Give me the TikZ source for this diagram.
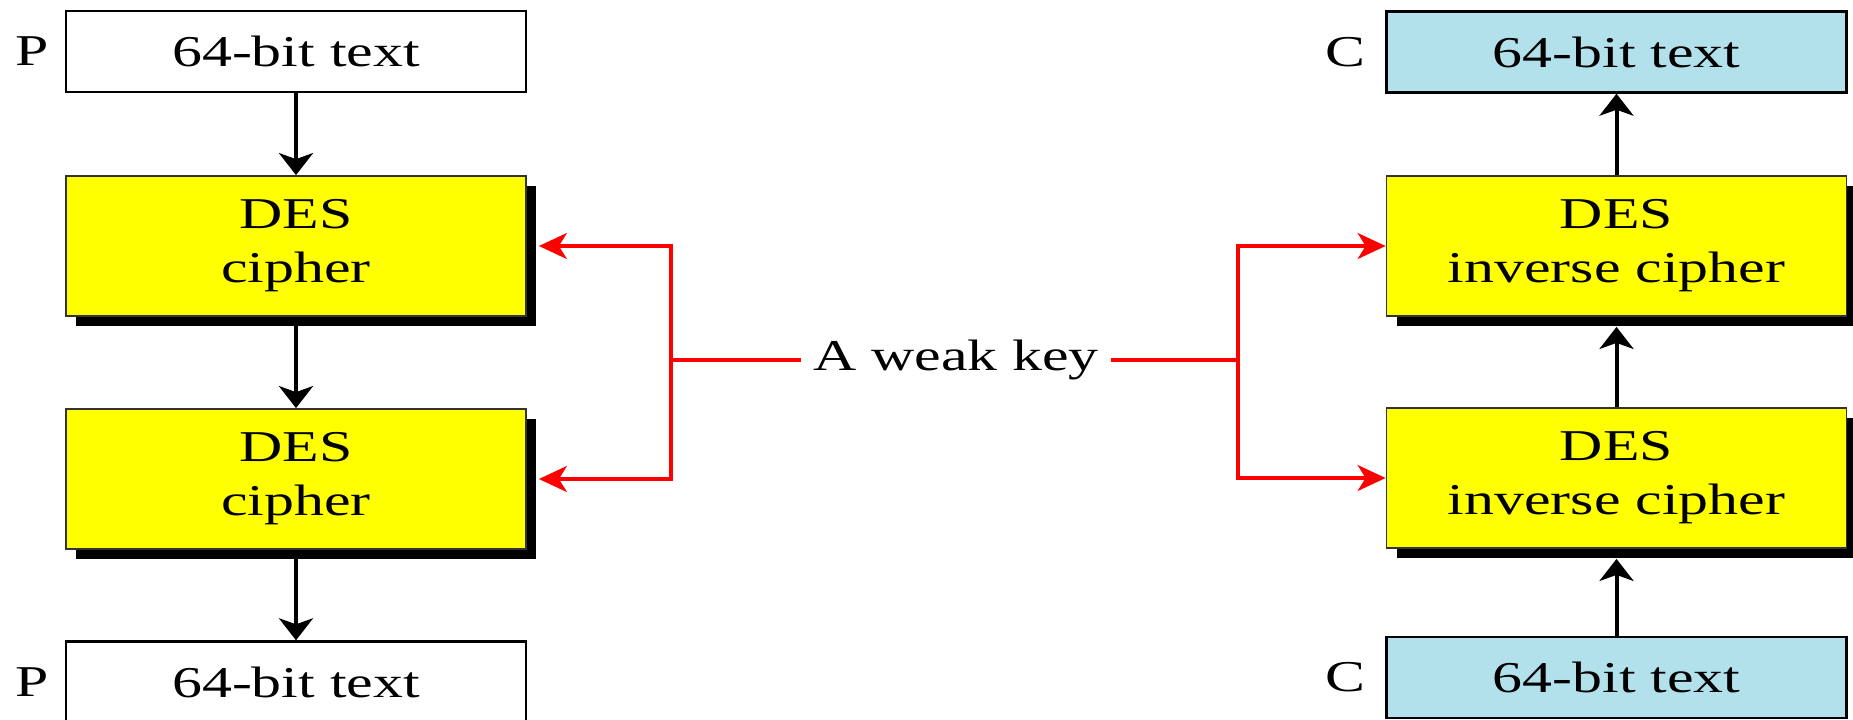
\documentclass[tikz,border=0pt]{standalone}
\usepackage{fontspec}
\setmainfont{Liberation Serif}[FakeStretch=1.36]
\usetikzlibrary{arrows.meta,shadows}
\definecolor{boxblue}{HTML}{B2E1EC}
\definecolor{desyellow}{RGB}{255,255,0}
\begin{document}
\begin{tikzpicture}[x=0.5pt,y=-0.5pt,
  every node/.style={font=\fontsize{22pt}{27pt}\selectfont},
  txtbox/.style={draw=black,line width=1.2pt,minimum width=230pt,minimum height=40.5pt,inner sep=0pt},
  whitebox/.style={txtbox,fill=white},
  bluebox/.style={txtbox,fill=boxblue},
  desbox/.style={draw=black!80,line width=0.9pt,fill=desyellow,minimum width=230pt,minimum height=70pt,inner sep=0pt,align=center,
    drop shadow={shadow xshift=5pt,shadow yshift=-5pt,fill=black,opacity=1}},
  lbl/.style={inner sep=0pt,anchor=east},
  flow/.style={-{Stealth[length=11pt,width=17pt,inset=3pt]},line width=2pt,black},
  keyarr/.style={-{Stealth[length=14pt,width=13pt,inset=4pt]},line width=1.6pt,red},
  keyline/.style={line width=1.6pt,red}]
\useasboundingbox (0,0) rectangle (1853,719);
% left column
\node[whitebox] (PT) at (296,51.5) {64-bit text};
\node[desbox] (D1) at (296,246) {DES\\cipher};
\node[desbox] (D2) at (296,479) {DES\\cipher};
\node[whitebox] (PB) at (296,682) {64-bit text};
\node[lbl] (PTl) at ([xshift=-8pt]PT.west) {P};
\node[lbl] (PBl) at ([xshift=-8pt]PB.west) {P};
% right column
\node[bluebox] (CT) at (1616.5,52) {64-bit text};
\node[desbox] (I1) at (1616.5,246) {DES\\inverse cipher};
\node[desbox] (I2) at (1616.5,478) {DES\\inverse cipher};
\node[bluebox] (CB) at (1616.5,677.5) {64-bit text};
\node[lbl] (CTl) at ([xshift=-10pt]CT.west) {C};
\node[lbl] (CBl) at ([xshift=-10pt]CB.west) {C};
% key
\node[inner xsep=6pt,inner ysep=0pt] (K) at (956,360) {A weak key};
\coordinate (LJ) at (671,360);
\coordinate (RJ) at (1238,360);
% black flow arrows
\draw[flow] (PT.south) -- (D1.north);
\draw[flow] (D1.south) -- (D2.north);
\draw[flow] (D2.south) -- (PB.north);
\draw[flow] (CB.north) -- ([yshift=-5pt]I2.south);
\draw[flow] (I2.north) -- ([yshift=-5pt]I1.south);
\draw[flow] (I1.north) -- (CT.south);
% red key lines
\draw[keyline] (K.west) -- (LJ);
\draw[keyline] (K.east) -- (RJ);
\draw[keyarr] (LJ) |- ([xshift=6pt]D1.east);
\draw[keyarr] (LJ) |- ([xshift=6pt]D2.east);
\draw[keyarr] (RJ) |- (I1.west);
\draw[keyarr] (RJ) |- (I2.west);
\end{tikzpicture}
\end{document}
